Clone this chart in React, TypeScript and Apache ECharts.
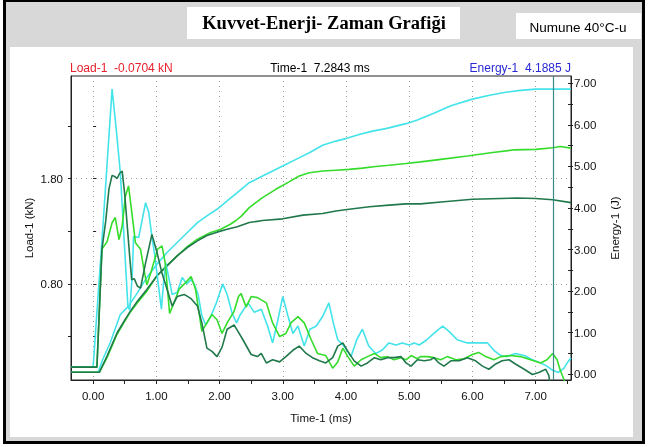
import React, { useEffect, useRef } from "react";
import * as echarts from "echarts";

// ---- axis ticks / labels ----
const timeTicks = [0, 0.5, 1, 1.5, 2, 2.5, 3, 3.5, 4, 4.5, 5, 5.5, 6, 6.5, 7, 7.5];
const timeLabels = [0, 1, 2, 3, 4, 5, 6, 7];
const loadTicks = [0.3, 0.8, 1.3, 1.8, 2.3];
const loadLabels = [0.8, 1.8];
const energyTicks = [0, 0.5, 1, 1.5, 2, 2.5, 3, 3.5, 4, 4.5, 5, 5.5, 6, 6.5, 7];
const energyLabels = [0, 1, 2, 3, 4, 5, 6, 7];

// ---- texts ----
const titleText = "Kuvvet-Enerji- Zaman Grafiği";
const sampleText = "Numune 40°C-u";
const loadReadout = "Load-1  -0.0704 kN";
const timeReadout = "Time-1  7.2843 ms";
const energyReadout = "Energy-1  4.1885 J";
const cursorTime = 7.2843;

// ---- series: [time (ms), value] ----
const loadCyan = [
  [-0.35, 0.01], [0.0, 0.01], [0.15, 1.3], [0.3, 2.65], [0.36, 2.3], [0.43, 1.86], [0.55, 0.59], [0.58, 0.55],
  [0.62, 0.9], [0.64, 1.25], [0.72, 1.24], [0.83, 1.57], [0.88, 1.48], [0.93, 1.25], [0.98, 1.05], [1.03, 0.8],
  [1.08, 0.56], [1.12, 0.85], [1.15, 1.0], [1.2, 0.85], [1.25, 0.7], [1.33, 0.72], [1.41, 0.86], [1.48, 0.8],
  [1.55, 0.84], [1.6, 0.8], [1.66, 0.7], [1.72, 0.5], [1.78, 0.41], [1.86, 0.49], [1.95, 0.62], [2.05, 0.8],
  [2.12, 0.7], [2.2, 0.52], [2.27, 0.43], [2.32, 0.5], [2.45, 0.62], [2.55, 0.53], [2.66, 0.56], [2.76, 0.4],
  [2.84, 0.24], [2.92, 0.45], [3.0, 0.68], [3.08, 0.5], [3.16, 0.33], [3.24, 0.4], [3.34, 0.21], [3.43, 0.37],
  [3.53, 0.4], [3.63, 0.49], [3.73, 0.62], [3.8, 0.43], [3.87, 0.27], [3.97, 0.21], [4.08, 0.11], [4.17, 0.27],
  [4.26, 0.37], [4.36, 0.21], [4.47, 0.14], [4.57, 0.17], [4.68, 0.24], [4.79, 0.22], [4.89, 0.24], [5.0, 0.22],
  [5.08, 0.24], [5.16, 0.22], [5.28, 0.27], [5.39, 0.33], [5.53, 0.4], [5.63, 0.35], [5.76, 0.27], [5.92, 0.24],
  [6.08, 0.24], [6.24, 0.24], [6.34, 0.17], [6.45, 0.12], [6.55, 0.11], [6.68, 0.14], [6.82, 0.12], [6.95, 0.08],
  [7.08, 0.05], [7.18, 0.02], [7.27, -0.02], [7.36, -0.04], [7.45, 0.0], [7.5, 0.05], [7.56, 0.1],
];
const loadGreen = [
  [-0.35, 0.01], [0.06, 0.01], [0.14, 1.13], [0.22, 1.2], [0.3, 1.38], [0.35, 1.43], [0.41, 1.22], [0.46, 1.35],
  [0.51, 1.63], [0.56, 1.73], [0.62, 1.44], [0.67, 1.19], [0.75, 1.13], [0.8, 0.95], [0.85, 0.79], [0.92, 0.92],
  [1.02, 1.13], [1.09, 1.16], [1.14, 1.0], [1.21, 0.52], [1.28, 0.62], [1.36, 0.75], [1.46, 0.81], [1.55, 0.87],
  [1.62, 0.75], [1.72, 0.35], [1.8, 0.43], [1.88, 0.51], [1.96, 0.46], [2.04, 0.33], [2.12, 0.43], [2.23, 0.54],
  [2.3, 0.68], [2.34, 0.71], [2.42, 0.58], [2.5, 0.68], [2.6, 0.67], [2.74, 0.62], [2.84, 0.43], [2.95, 0.3],
  [3.05, 0.33], [3.13, 0.43], [3.24, 0.49], [3.34, 0.43], [3.45, 0.27], [3.55, 0.14], [3.68, 0.12], [3.79, 0.0],
  [3.87, 0.06], [3.95, 0.19], [4.03, 0.11], [4.13, 0.02], [4.24, 0.08], [4.34, 0.11], [4.45, 0.14], [4.55, 0.1],
  [4.66, 0.11], [4.76, 0.08], [4.87, 0.1], [4.95, 0.08], [5.03, 0.12], [5.13, 0.09], [5.18, 0.11], [5.29, 0.11],
  [5.39, 0.1], [5.5, 0.08], [5.6, 0.11], [5.74, 0.08], [5.87, 0.09], [6.0, 0.13], [6.1, 0.15], [6.21, 0.11],
  [6.34, 0.08], [6.45, 0.11], [6.6, 0.12], [6.76, 0.11], [6.92, 0.08], [7.08, 0.05], [7.18, 0.08], [7.27, 0.14],
  [7.34, 0.08], [7.39, -0.02], [7.45, -0.11], [7.5, -0.25],
];
const loadDark = [
  [-0.35, 0.01], [0.06, 0.01], [0.14, 1.13], [0.2, 1.4], [0.25, 1.7], [0.3, 1.83], [0.34, 1.82], [0.38, 1.8],
  [0.42, 1.85], [0.46, 1.87], [0.5, 1.65], [0.54, 1.35], [0.58, 1.05], [0.61, 0.84], [0.65, 0.85], [0.7, 0.78],
  [0.75, 0.76], [0.83, 1.0], [0.93, 1.27], [1.01, 1.1], [1.09, 0.9], [1.17, 0.75], [1.25, 0.59], [1.33, 0.68],
  [1.44, 0.7], [1.55, 0.66], [1.65, 0.59], [1.72, 0.43], [1.8, 0.19], [1.88, 0.16], [1.96, 0.11], [2.04, 0.2],
  [2.12, 0.37], [2.23, 0.41], [2.27, 0.37], [2.37, 0.27], [2.5, 0.13], [2.6, 0.11], [2.66, 0.14], [2.74, 0.05],
  [2.84, 0.08], [2.95, 0.06], [3.05, 0.11], [3.16, 0.17], [3.26, 0.21], [3.37, 0.14], [3.47, 0.1], [3.58, 0.07],
  [3.68, 0.05], [3.79, 0.1], [3.87, 0.21], [3.95, 0.24], [4.03, 0.16], [4.13, 0.07], [4.24, 0.02], [4.34, 0.05],
  [4.45, 0.1], [4.55, 0.08], [4.66, 0.1], [4.76, 0.1], [4.87, 0.11], [4.95, 0.05], [5.03, 0.02], [5.13, 0.08],
  [5.24, 0.07], [5.34, 0.08], [5.39, 0.1], [5.47, 0.05], [5.55, 0.02], [5.66, 0.07], [5.79, 0.07], [5.92, 0.1],
  [6.05, 0.07], [6.16, 0.02], [6.26, -0.01], [6.37, 0.04], [6.47, 0.07], [6.58, 0.08], [6.68, 0.04], [6.82, -0.01],
  [6.95, -0.06], [7.05, -0.04], [7.16, -0.01], [7.21, -0.07], [7.26, -0.3],
];
const energyCyan = [
  [-0.35, 0.05], [0.08, 0.05], [0.15, 0.35], [0.27, 0.76], [0.43, 1.44], [0.56, 1.64], [0.7, 1.96], [0.85, 2.33],
  [1.01, 2.65], [1.17, 2.93], [1.33, 3.17], [1.49, 3.41], [1.65, 3.65], [1.8, 3.81], [1.96, 3.97], [2.12, 4.17],
  [2.28, 4.37], [2.47, 4.61], [2.68, 4.77], [2.84, 4.89], [3.0, 5.01], [3.21, 5.17], [3.42, 5.33], [3.63, 5.51],
  [3.84, 5.61], [4.0, 5.67], [4.21, 5.77], [4.42, 5.85], [4.63, 5.91], [4.79, 5.97], [4.95, 6.03], [5.13, 6.12],
  [5.39, 6.28], [5.66, 6.46], [6.0, 6.62], [6.29, 6.72], [6.55, 6.79], [6.76, 6.83], [7.0, 6.86], [7.56, 6.86],
];
const energyGreen = [
  [-0.35, 0.05], [0.1, 0.05], [0.22, 0.4], [0.38, 0.97], [0.49, 1.25], [0.59, 1.5], [0.7, 1.72], [0.85, 2.0],
  [1.01, 2.37], [1.17, 2.62], [1.33, 2.85], [1.49, 3.07], [1.65, 3.25], [1.86, 3.41], [2.02, 3.49], [2.17, 3.61],
  [2.26, 3.7], [2.34, 3.8], [2.47, 4.01], [2.68, 4.25], [2.89, 4.45], [3.1, 4.63], [3.26, 4.77], [3.42, 4.85],
  [3.63, 4.89], [3.84, 4.91], [4.05, 4.93], [4.26, 4.96], [4.47, 5.0], [4.68, 5.03], [4.95, 5.07], [5.18, 5.11],
  [5.5, 5.17], [5.92, 5.25], [6.29, 5.33], [6.66, 5.4], [7.0, 5.41], [7.27, 5.45], [7.39, 5.48], [7.56, 5.44],
];
const energyDark = [
  [-0.35, 0.05], [0.1, 0.05], [0.22, 0.44], [0.38, 1.0], [0.49, 1.28], [0.59, 1.52], [0.7, 1.76], [0.85, 2.04],
  [1.01, 2.37], [1.17, 2.61], [1.33, 2.85], [1.49, 3.05], [1.65, 3.21], [1.8, 3.34], [1.96, 3.42], [2.12, 3.49],
  [2.28, 3.55], [2.47, 3.65], [2.68, 3.7], [3.0, 3.74], [3.32, 3.83], [3.63, 3.87], [3.84, 3.93], [4.05, 3.97],
  [4.37, 4.03], [4.68, 4.07], [4.95, 4.1], [5.18, 4.1], [5.55, 4.15], [6.0, 4.21], [6.45, 4.23], [6.71, 4.24],
  [7.0, 4.23], [7.27, 4.2], [7.56, 4.13],
];

const CYAN = "#43e3ea";
const GREEN = "#35dc2c";
const DARK = "#21784c";
const SANS = '"Liberation Sans", Arial, sans-serif';

const X_MIN = -0.35, X_MAX = 7.56;
const L_MIN = -0.112, L_MAX = 2.773;
const E_MIN = -0.137, E_MAX = 7.176;

const fmt2 = (v: number) => Number(v).toFixed(2);

export default function App() {
  const ref = useRef<HTMLDivElement>(null);
  useEffect(() => {
    if (!ref.current) return;
    const chart = echarts.init(ref.current, null, { renderer: "svg" });
    const lineSeries = (name: string, data: number[][], color: string, yAxisIndex: number, extra: any = {}) => ({
      name, type: "line", data, xAxisIndex: 0, yAxisIndex, showSymbol: false, symbol: "none",
      lineStyle: { color, width: 1.6 }, itemStyle: { color }, clip: true, ...extra,
    });
    const hiddenBase = { axisLine: { show: false }, axisLabel: { show: false } };
    chart.setOption({
      animation: false,
      graphic: [
        { type: "rect", z: -10, shape: { x: 3, y: 0, width: 642, height: 444 }, style: { fill: "#000" } },
        { type: "rect", z: -9, shape: { x: 6, y: 2, width: 636, height: 439 }, style: { fill: "#d8d8d8" } },
        { type: "rect", z: -8, shape: { x: 10, y: 47, width: 623, height: 390 }, style: { fill: "#fff" } },
        { type: "rect", z: -8, shape: { x: 187, y: 7, width: 273, height: 32 }, style: { fill: "#fff" } },
        { type: "rect", z: -8, shape: { x: 516, y: 13, width: 125, height: 26 }, style: { fill: "#fff" } },
        { type: "text", z: 10, x: 324, y: 23, style: { text: titleText, fontFamily: '"Liberation Serif", "Times New Roman", serif', fontWeight: "bold", fontSize: 18.5, fill: "#000", align: "center", verticalAlign: "middle" } },
        { type: "text", z: 10, x: 578, y: 27, style: { text: sampleText, fontFamily: SANS, fontSize: 13.5, fill: "#000", align: "center", verticalAlign: "middle" } },
        { type: "text", z: 10, x: 70, y: 68, style: { text: loadReadout, fontFamily: SANS, fontSize: 12, fill: "#e8202c", align: "left", verticalAlign: "middle" } },
        { type: "text", z: 10, x: 320, y: 68, style: { text: timeReadout, fontFamily: SANS, fontSize: 12, fill: "#000", align: "center", verticalAlign: "middle" } },
        { type: "text", z: 10, x: 571, y: 68, style: { text: energyReadout, fontFamily: SANS, fontSize: 12, fill: "#2a2ad4", align: "right", verticalAlign: "middle" } },
      ],
      grid: { left: 71, top: 76, width: 500, height: 304, show: true, borderColor: "#222", borderWidth: 1, backgroundColor: "transparent" },
      xAxis: [
        {
          type: "value", min: X_MIN, max: X_MAX, position: "bottom",
          axisLine: { show: true, onZero: false, lineStyle: { color: "#222" } },
          axisTick: { show: true, customValues: timeTicks, length: 4, lineStyle: { color: "#222" } },
          axisLabel: { customValues: timeLabels, formatter: fmt2, fontSize: 11.5, color: "#111", margin: 10, fontFamily: SANS },
          splitLine: { show: false },
          name: "Time-1 (ms)", nameLocation: "middle", nameGap: 32,
          nameTextStyle: { fontSize: 11.5, color: "#111", fontFamily: SANS },
        },
        {
          type: "value", min: X_MIN, max: X_MAX, position: "bottom", ...hiddenBase,
          axisTick: { show: false, customValues: timeLabels },
          splitLine: { show: true, lineStyle: { color: "#9a9a9a", type: [1, 4], width: 1 } },
        },
      ],
      yAxis: [
        {
          type: "value", min: L_MIN, max: L_MAX, position: "left",
          axisLine: { show: true, onZero: false, lineStyle: { color: "#222" } },
          axisTick: { show: true, customValues: loadTicks, length: 3, lineStyle: { color: "#222" } },
          axisLabel: { customValues: loadLabels, formatter: fmt2, fontSize: 11.5, color: "#111", margin: 8, fontFamily: SANS },
          splitLine: { show: false },
          name: "Load-1 (kN)", nameLocation: "middle", nameGap: 36, nameMoveOverlap: false,
          nameTextStyle: { fontSize: 11.5, color: "#111", fontFamily: SANS },
        },
        {
          type: "value", min: E_MIN, max: E_MAX, position: "right",
          axisLine: { show: true, onZero: false, lineStyle: { color: "#222" } },
          axisTick: { show: true, inside: true, customValues: energyTicks, length: 3, lineStyle: { color: "#222" } },
          axisLabel: { customValues: energyLabels, formatter: fmt2, fontSize: 11.5, color: "#111", margin: 3, fontFamily: SANS },
          splitLine: { show: false },
          name: "Energy-1 (J)", nameLocation: "middle", nameGap: 38, nameMoveOverlap: false,
          nameTextStyle: { fontSize: 11.5, color: "#111", fontFamily: SANS },
        },
        {
          type: "value", min: L_MIN, max: L_MAX, position: "left", ...hiddenBase,
          axisTick: { show: false, customValues: loadLabels },
          splitLine: { show: true, lineStyle: { color: "#9a9a9a", type: [1, 4], width: 1 } },
        },
        {
          type: "value", min: L_MIN, max: L_MAX, position: "left", ...hiddenBase,
          axisTick: { show: true, inside: true, customValues: loadTicks, length: 3, lineStyle: { color: "#222" } },
          splitLine: { show: false },
        },
        {
          type: "value", min: E_MIN, max: E_MAX, position: "right", ...hiddenBase,
          axisTick: { show: true, inside: false, customValues: energyTicks, length: 2, lineStyle: { color: "#222" } },
          splitLine: { show: false },
        },
      ],
      series: [
        lineSeries("Energy cyan", energyCyan, CYAN, 1),
        lineSeries("Energy green", energyGreen, GREEN, 1),
        lineSeries("Energy dark", energyDark, DARK, 1),
        lineSeries("Load cyan", loadCyan, CYAN, 0),
        lineSeries("Load green", loadGreen, GREEN, 0),
        lineSeries("Load dark", loadDark, DARK, 0, {
          markLine: {
            silent: true, symbol: "none", label: { show: false },
            lineStyle: { color: "#3b8787", type: "solid", width: 1.2 },
            data: [{ xAxis: cursorTime }],
          },
        }),
      ],
    });
    return () => chart.dispose();
  }, []);
  return <div ref={ref} style={{ position: "fixed", left: 0, top: 0, width: 648, height: 447 }} />;
}
